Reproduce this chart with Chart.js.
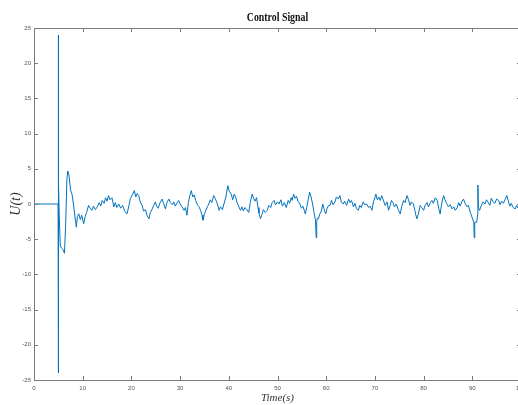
<!DOCTYPE html>
<html>
<head>
<meta charset="utf-8">
<script src="https://cdn.jsdelivr.net/npm/chart.js@4/dist/chart.umd.min.js"></script>
<style>
    html, body { margin: 0; padding: 0; background: #fff; overflow: hidden; }
    #wrap { width: 521px; height: 405px; position: relative; }
</style>
</head>
<body>
<div id="wrap"><canvas id="controlChart"></canvas></div>
<script>
// valores
const chartTitle = 'Control Signal';
const xTitle = 'Time(s)';
const yTitle = 'U(t)';
const xTickValues = [0, 10, 20, 30, 40, 50, 60, 70, 80, 90, 100];
const yTickValues = [-25, -20, -15, -10, -5, 0, 5, 10, 15, 20, 25];

// partida: sinal nulo e depois o pico em t = 5 s
const startSignal = [
    [0, 0], [4.95, 0], [4.98, 24], [5.02, -24], [5.06, 3.3], [5.2, -2], [5.4, -6],
    [5.7, -6.3], [6.0, -6.5], [6.25, -7], [6.5, -3], [6.75, 3.5], [6.95, 4.7],
    [7.2, 4], [7.5, 2], [7.8, 1.4], [8.1, 0], [8.5, -2.3], [8.7, -3.3], [8.9, -1.8]
];

// resto do sinal (ruido em torno de zero)
const noiseSignal = [
    [9.2, -1.4], [9.5, -2.2], [9.8, -1.6], [10.2, -2.8], [10.5, -1.8], [10.8, -1.2],
    [11.2, -0.2], [11.5, -0.6], [11.9, -0.9], [12.2, -0.3], [12.6, -0.8], [13.0, -0.4],
    [13.4, 0.2], [13.7, -0.3], [14.0, 0.5], [14.4, 0.1], [14.7, 0.9], [15.0, 0.4],
    [15.3, 1.2], [15.6, 0.6], [16.0, 0.9], [16.4, -0.4], [16.7, 0.2], [17.0, -0.5],
    [17.4, 0], [17.8, -0.6], [18.2, -0.2], [18.6, -1.0], [19.1, -1.4], [19.5, -0.2],
    [19.8, 0.8], [20.2, 1.3], [20.6, 1.9], [20.9, 1.0], [21.2, 1.5], [21.5, 1.2],
    [21.8, 0.3], [22.2, -0.2], [22.5, -1.0], [22.9, -0.8], [23.2, -1.6], [23.6, -2.1],
    [23.9, -1.2], [24.2, -0.8], [24.6, -0.2], [24.9, 0.3], [25.2, -0.3], [25.5, -0.6],
    [25.9, 0.2], [26.3, 0.7], [26.6, 0.1], [27.0, -0.7], [27.3, 0.2], [27.7, 0.7],
    [28.0, 0.2], [28.4, -0.1], [28.7, 0.3], [29.0, -0.3], [29.4, 0.2], [29.7, 0.5],
    [30.0, 0.0], [30.4, -0.4], [30.8, -0.9], [31.1, -0.5], [31.4, -1.6], [31.7, 0.2],
    [32.0, 1.2], [32.3, 1.9], [32.6, 1.0], [32.9, 1.3], [33.2, 0.5], [33.6, -0.2],
    [33.9, -0.4], [34.2, -0.9], [34.5, -1.6], [34.7, -2.3], [35.0, -1.4], [35.3, -0.9],
    [35.6, -0.4], [35.9, 0.0], [36.2, 0.6], [36.5, 0.2], [36.9, 1.2], [37.2, 0.8],
    [37.5, 0.3], [37.8, -0.3], [38.0, -0.9], [38.3, -0.4], [38.7, -0.8], [39.0, 0],
    [39.4, 1.0], [39.8, 2.6], [40.1, 1.8], [40.5, 1.4], [40.8, 0.6], [41.1, 1.4],
    [41.4, 1.0], [41.7, 0.2], [42.0, -0.3], [42.4, -0.9], [42.7, -0.4], [43.0, -1.0],
    [43.3, -0.5], [43.7, -0.8], [44.1, -1.2], [44.4, 0.2], [44.8, 1.4], [45.1, 0.8],
    [45.4, 0.4], [45.7, 0.9], [46.0, -0.5], [46.2, -1.3], [46.5, -2.1], [46.8, -1.5],
    [47.1, -0.8], [47.5, -1.2], [47.9, -0.9], [48.2, -0.2], [48.6, -0.5], [48.9, 0.2],
    [49.3, 0.5], [49.6, -0.1], [50.0, 0.3], [50.3, 0.0], [50.7, 0.6], [51.0, -0.3],
    [51.4, 0.2], [51.8, -0.5], [52.2, 0.5], [52.5, 0.1], [52.8, 0.9], [53.0, 0.5],
    [53.3, 1.4], [53.6, 0.8], [53.9, 1.1], [54.2, 0.4], [54.6, 0], [54.9, -0.6],
    [55.2, -0.3], [55.5, -0.9], [55.7, -1.4], [56.0, -0.5], [56.3, 0.6], [56.6, 1.7],
    [56.9, 1.0], [57.2, 0], [57.5, -1.2], [57.8, -2.3], [57.95, -4.8], [58.05, -2.5],
    [58.2, -2.0], [58.4, -2.1], [58.7, -1.4], [59.0, -1.0], [59.3, 0], [59.6, -0.8],
    [59.9, -1.4], [60.2, -0.6], [60.5, -0.2], [60.8, -0.2], [61.1, 0.5], [61.4, -0.1],
    [61.8, 0.3], [62.1, 1.0], [62.5, 0.7], [62.8, 1.2], [63.1, 0.3], [63.5, 0.0],
    [63.8, 0.4], [64.2, -0.2], [64.6, 0.7], [64.9, 0.2], [65.2, 0.5], [65.6, -0.4],
    [65.9, 0.1], [66.2, -0.6], [66.6, -0.9], [66.9, -0.2], [67.2, -0.5], [67.6, 0.3],
    [67.9, -0.1], [68.3, 0], [68.7, -0.5], [69.0, -0.3], [69.4, -0.9], [69.7, 0.3],
    [70.0, 0.9], [70.2, 1.4], [70.5, 0.6], [70.8, 1.0], [71.1, 0.5], [71.4, 1.2],
    [71.8, 0.4], [72.1, -0.2], [72.5, 0.3], [72.8, -0.9], [73.1, -0.3], [73.4, 0.5],
    [73.7, 0.2], [74.0, -0.4], [74.4, 0.0], [74.8, -0.8], [75.2, -1.4], [75.5, -0.4],
    [75.9, 0.5], [76.2, 0.2], [76.6, 1.2], [76.9, 0.6], [77.2, -0.2], [77.5, 0.3],
    [77.9, 0.0], [78.2, -0.9], [78.6, -2.1], [78.9, -1.5], [79.3, -0.2], [79.6, -0.5],
    [80.0, -0.9], [80.3, -0.2], [80.7, 0.2], [81.0, -0.4], [81.4, 0.2], [81.7, 0.5],
    [82.0, 0.1], [82.4, 0.9], [82.8, 0.5], [83.1, -0.6], [83.4, -1.4], [83.7, 0.0],
    [84.1, 1.2], [84.4, 0.6], [84.7, 0.1], [85.1, -0.4], [85.5, -0.1], [85.8, -0.7],
    [86.2, -0.4], [86.5, -0.9], [86.9, -0.5], [87.2, 0.2], [87.5, -0.3], [87.9, 0.4],
    [88.2, 0.7], [88.5, 0.1], [88.9, -0.4], [89.2, -0.2], [89.6, -1.2], [90.0, -2.0],
    [90.3, -2.6], [90.4, -4.8], [90.5, -2.6], [90.9, -2.6], [91.1, -1.5], [91.15, 2.7],
    [91.25, -0.5], [91.5, -0.9], [91.8, -0.3], [92.2, 0.3], [92.6, 0], [92.9, 0.6],
    [93.2, 0.3], [93.6, -0.2], [93.9, 0.8], [94.2, 0.4], [94.6, 0.1], [95.0, 0.7],
    [95.4, 0.5], [95.7, -0.1], [96.0, 0.4], [96.4, 0.1], [96.7, 0.6], [97.1, 1.2],
    [97.4, 0.4], [97.7, -0.3], [98.0, 0.1], [98.4, -0.5], [98.8, -0.7], [99.1, -0.2],
    [99.4, -0.6], [99.7, -0.3], [99.75, 2.4], [99.85, -0.8], [100, -1.2]
];

const points = startSignal.concat(noiseSignal).map(p => ({ x: p[0], y: p[1] }));

const axisColor = '#7a7a7a';
const tickFont = { family: '"Liberation Sans", Arial, sans-serif', size: 6 };

// moldura estilo MATLAB, ticks para dentro, titulos
const matlabFrame = {
    id: 'matlabFrame',
    afterDraw(chart) {
        const ctx = chart.ctx;
        const a = chart.chartArea;
        const xs = chart.scales.x;
        const ys = chart.scales.y;
        const len = 4;
        ctx.save();
        ctx.strokeStyle = axisColor;
        ctx.lineWidth = 1;
        ctx.strokeRect(a.left + 0.5, a.top + 0.5, a.right - a.left, a.bottom - a.top);
        ctx.beginPath();
        xTickValues.forEach(v => {
            const px = Math.round(xs.getPixelForValue(v)) + 0.5;
            ctx.moveTo(px, a.bottom); ctx.lineTo(px, a.bottom - len);
            ctx.moveTo(px, a.top); ctx.lineTo(px, a.top + len);
        });
        yTickValues.forEach(v => {
            const py = Math.round(ys.getPixelForValue(v)) + 0.5;
            ctx.moveTo(a.left, py); ctx.lineTo(a.left + len, py);
            ctx.moveTo(a.right, py); ctx.lineTo(a.right - len, py);
        });
        ctx.stroke();

        const cx = (a.left + a.right) / 2;
        ctx.fillStyle = '#111';
        ctx.textAlign = 'center';
        ctx.textBaseline = 'middle';

        ctx.save();
        ctx.translate(cx, 18);
        ctx.scale(0.82, 1);
        ctx.font = 'bold 12px "Liberation Serif", "Times New Roman", serif';
        ctx.fillText(chartTitle, 0, 0);
        ctx.restore();

        ctx.fillStyle = '#333';
        ctx.font = 'italic 11px "Liberation Serif", "Times New Roman", serif';
        ctx.fillText(xTitle, cx, 398);

        ctx.save();
        ctx.translate(16, (a.top + a.bottom) / 2);
        ctx.rotate(-Math.PI / 2);
        ctx.font = 'italic 14px "Liberation Serif", "Times New Roman", serif';
        ctx.fillText(yTitle, 0, 0);
        ctx.restore();
        ctx.restore();
    }
};

const ctx = document.getElementById('controlChart');
new Chart(ctx, {
    type: 'line',
    data: {
        datasets: [{
            data: points,
            borderColor: '#0072BD',
            borderWidth: 1,
            pointRadius: 0,
            fill: false,
            tension: 0
        }]
    },
    options: {
        responsive: true,
        maintainAspectRatio: false,
        devicePixelRatio: 1,
        animation: false,
        layout: { padding: { top: 28, right: 0, bottom: 0, left: 0 } },
        plugins: {
            legend: { display: false },
            tooltip: { enabled: false },
            title: { display: false }
        },
        scales: {
            x: {
                type: 'linear',
                min: 0,
                max: 100,
                afterFit: s => { s.height = 25; s.paddingLeft = 0; s.paddingRight = 0; },
                afterBuildTicks: s => { s.ticks = xTickValues.map(v => ({ value: v })); },
                grid: { display: false, drawTicks: false },
                border: { display: false },
                ticks: { color: '#555', font: tickFont, padding: 5, maxRotation: 0 }
            },
            y: {
                type: 'linear',
                min: -25,
                max: 25,
                afterFit: s => { s.width = 34; s.paddingTop = 0; s.paddingBottom = 0; },
                afterBuildTicks: s => { s.ticks = yTickValues.map(v => ({ value: v })); },
                grid: { display: false, drawTicks: false },
                border: { display: false },
                ticks: { color: '#555', font: tickFont, padding: 3 }
            }
        }
    },
    plugins: [matlabFrame]
});
</script>
</body>
</html>
